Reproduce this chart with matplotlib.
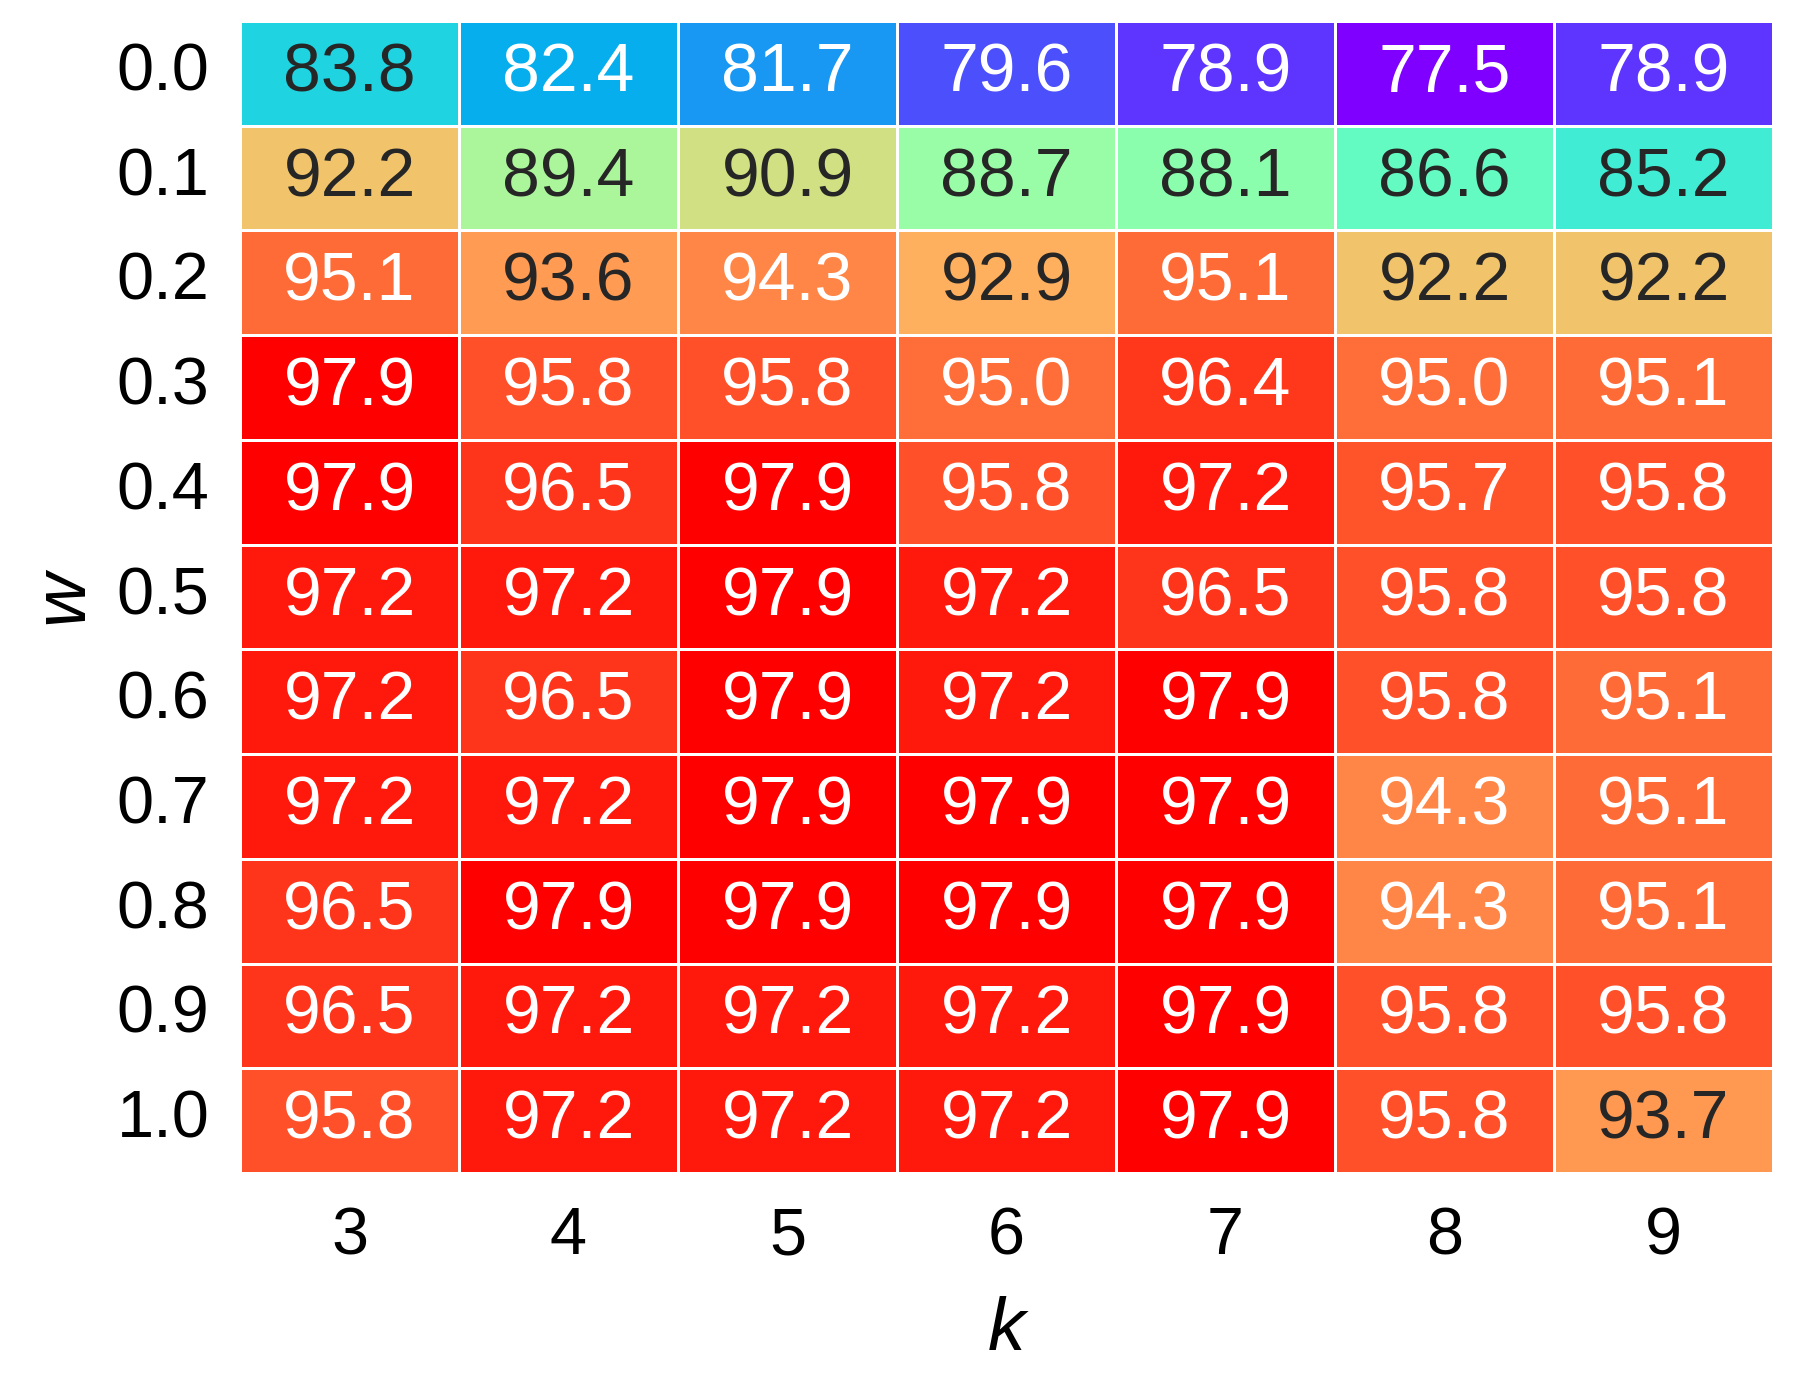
import numpy as np
import seaborn as sns
import matplotlib.pyplot as plt

k_vals = [3, 4, 5, 6, 7, 8, 9]
w_vals = ['0.0', '0.1', '0.2', '0.3', '0.4', '0.5', '0.6', '0.7', '0.8', '0.9', '1.0']

# accuracy, rows are w, columns are k
acc = np.array([
    [83.8, 82.4, 81.7, 79.6, 78.9, 77.5, 78.9],
    [92.2, 89.4, 90.9, 88.7, 88.1, 86.6, 85.2],
    [95.1, 93.6, 94.3, 92.9, 95.1, 92.2, 92.2],
    [97.9, 95.8, 95.8, 95.0, 96.4, 95.0, 95.1],
    [97.9, 96.5, 97.9, 95.8, 97.2, 95.7, 95.8],
    [97.2, 97.2, 97.9, 97.2, 96.5, 95.8, 95.8],
    [97.2, 96.5, 97.9, 97.2, 97.9, 95.8, 95.1],
    [97.2, 97.2, 97.9, 97.9, 97.9, 94.3, 95.1],
    [96.5, 97.9, 97.9, 97.9, 97.9, 94.3, 95.1],
    [96.5, 97.2, 97.2, 97.2, 97.9, 95.8, 95.8],
    [95.8, 97.2, 97.2, 97.2, 97.9, 95.8, 93.7],
])

plt.rcParams['font.family'] = ['Liberation Sans', 'DejaVu Sans']

fig = plt.figure(figsize=(17.94, 13.74), dpi=100)
ax = fig.add_axes([240 / 1794, 1 - 1173 / 1374, (1773 - 240) / 1794, (1173 - 21) / 1374])

sns.heatmap(acc, ax=ax, cmap='rainbow', vmin=acc.min(), vmax=acc.max(),
            annot=True, fmt='.1f', annot_kws={'fontsize': 49},
            linewidths=2, linecolor='white', cbar=False,
            xticklabels=k_vals, yticklabels=w_vals)

ax.tick_params(axis='both', length=0, labelsize=48)
ax.tick_params(axis='y', pad=22, rotation=0)
ax.tick_params(axis='x', pad=24)
ax.set_xlabel('k', fontsize=54, fontstyle='italic', labelpad=20)
ax.set_ylabel('w', fontsize=54, fontstyle='italic', labelpad=14)

fig.savefig('out.png', dpi=100)
